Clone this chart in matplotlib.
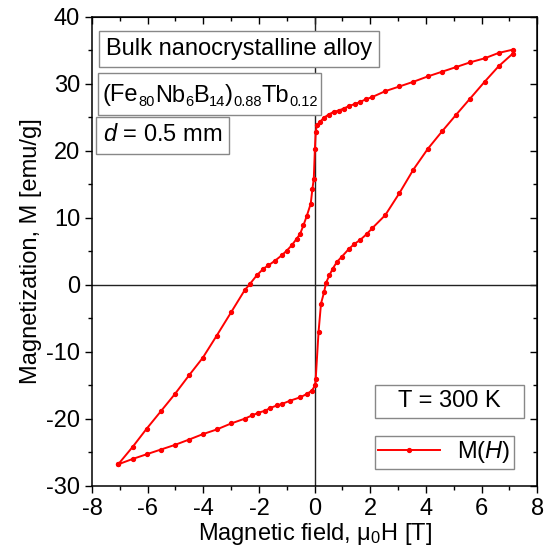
import numpy as np
import matplotlib
matplotlib.use('Agg')
import matplotlib.pyplot as plt
from matplotlib.patches import Rectangle

plt.rcParams['font.family'] = ['Liberation Sans', 'DejaVu Sans']
plt.rcParams['mathtext.fontset'] = 'custom'
plt.rcParams['mathtext.rm'] = 'Liberation Sans'
plt.rcParams['mathtext.it'] = 'Liberation Sans:italic'
plt.rcParams['mathtext.default'] = 'regular'
plt.rcParams['axes.unicode_minus'] = False

# 下降分支 (+7 T -> -7 T)
H_down = [7.13, 6.61, 6.11, 5.59, 5.09, 4.58, 4.07, 3.55, 3.05, 2.54, 2.06, 1.85, 1.64,
          1.46, 1.25, 1.04, 0.86, 0.68, 0.50, 0.32, 0.20, 0.08, 0.04, 0.01, -0.03, -0.08,
          -0.14, -0.28, -0.40, -0.52, -0.64, -0.82, -1.00, -1.18, -1.42, -1.66, -1.84,
          -2.08, -2.32, -2.52, -3.00, -3.52, -4.02, -4.51, -5.02, -5.53, -6.04, -6.54, -7.06]
M_down = [35.1, 34.6, 33.8, 33.2, 32.5, 31.8, 31.1, 30.3, 29.6, 28.9, 28.0, 27.7, 27.3,
          27.0, 26.7, 26.3, 26.0, 25.8, 25.4, 24.9, 24.3, 23.8, 22.8, 20.3, 15.8, 14.3,
          12.1, 10.3, 8.9, 7.6, 6.9, 5.9, 5.1, 4.4, 3.6, 2.9, 2.4,
          1.4, 0.15, -0.85, -4.1, -7.6, -10.9, -13.5, -16.3, -18.9, -21.5, -24.2, -26.8]

# 上升分支 (-7 T -> +7 T)
H_up = [-7.06, -6.54, -6.04, -5.53, -5.02, -4.51, -4.02, -3.52, -3.00, -2.52, -2.25, -2.02,
        -1.78, -1.60, -1.35, -1.18, -0.88, -0.52, -0.28, -0.10, 0.02, 0.04, 0.14, 0.23,
        0.34, 0.41, 0.53, 0.65, 0.80, 0.98, 1.22, 1.43, 1.64, 1.88, 2.06, 2.54, 3.05,
        3.55, 4.07, 4.58, 5.09, 5.59, 6.11, 6.61, 7.12]
M_up = [-26.8, -26.0, -25.3, -24.6, -23.9, -23.1, -22.3, -21.6, -20.7, -20.0, -19.5, -19.1,
        -18.8, -18.4, -18.0, -17.8, -17.3, -16.8, -16.3, -15.8, -15.0, -14.0, -7.1, -2.8,
        -1.1, 0.3, 1.4, 2.4, 3.4, 4.2, 5.3, 6.1, 6.7, 7.6, 8.4, 10.4, 13.7,
        17.2, 20.3, 22.9, 25.4, 27.8, 30.3, 32.6, 34.5]

# 成分式: (文本, 是否下标)
formula = [('(Fe', False), ('80', True), ('Nb', False), ('6', True), ('B', False),
           ('14', True), (')', False), ('0.88', True), ('Tb', False), ('0.12', True)]

H = H_down + H_up
M = M_down + M_up

fs = 17
fs_sub = 10.5
W, Hpx = 551, 559
fig = plt.figure(figsize=(5.51, 5.59), dpi=100)
ax = fig.add_axes([0.167, 0.131, 0.808, 0.839])

ax.axhline(0, color='#222222', lw=1.0, zorder=1)
ax.axvline(0, color='#222222', lw=1.0, zorder=1)
ax.plot(H, M, color='red', lw=1.4, marker='o', ms=2.8, label='M($\\mathit{H}$)', zorder=3)

ax.set_xlim(-8, 8)
ax.set_ylim(-30, 40)
ax.set_xticks(np.arange(-8, 9, 2))
ax.set_yticks(np.arange(-30, 41, 10))
ax.set_xticks(np.arange(-8, 9, 1), minor=True)
ax.set_yticks(np.arange(-30, 41, 5), minor=True)
ax.tick_params(which='both', direction='out', top=False, right=False, labelsize=fs, width=1.0)
ax.tick_params(which='major', length=5)
ax.tick_params(which='minor', length=3)
# 上/右 内侧刻度
axt = ax.secondary_xaxis('top')
axt.set_xticks(np.arange(-8, 9, 2))
axt.set_xticks(np.arange(-8, 9, 1), minor=True)
axt.tick_params(which='both', direction='in', labeltop=False, width=1.0)
axt.tick_params(which='major', length=5)
axt.tick_params(which='minor', length=3)
axr = ax.secondary_yaxis('right')
axr.set_yticks(np.arange(-30, 41, 10))
axr.set_yticks(np.arange(-30, 41, 5), minor=True)
axr.tick_params(which='both', direction='in', labelright=False, width=1.0)
axr.tick_params(which='major', length=5)
axr.tick_params(which='minor', length=3)
for s in ax.spines.values():
    s.set_linewidth(1.1)

ax.set_xlabel('Magnetic field, μ$_0$H [T]', fontsize=fs, labelpad=1)
ax.set_ylabel('Magnetization, M [emu/g]', fontsize=fs, labelpad=3)

bb = dict(boxstyle='square,pad=0.3', fc='white', ec='#888888', lw=1.0)
ax.text(0.031, 0.931, 'Bulk nanocrystalline alloy', transform=ax.transAxes,
        fontsize=fs, va='center', ha='left', bbox=bb, zorder=5)
ax.text(0.024, 0.747, '$\\mathit{d}$ = 0.5 mm', transform=ax.transAxes,
        fontsize=fs, va='center', ha='left', bbox=bb, zorder=5)

# 成分框 (像素坐标, 逐段排字)
def box_px(x0, y0, x1, y1):
    # 图片坐标 (左上原点) -> 显示坐标
    fig.patches.append(Rectangle((x0, Hpx - y1), x1 - x0, y1 - y0, transform=None,
                                 fc='white', ec='#888888', lw=1.0, zorder=5))

box_px(98, 73, 321, 115)
renderer = fig.canvas.get_renderer()
xc = 103
base = Hpx - 101.5
for s, sub in formula:
    t = fig.text(xc, base - (5 if sub else 0), s, transform=None,
                 fontsize=fs_sub if sub else fs, va='baseline', ha='left', zorder=6)
    xc += t.get_window_extent(renderer).width

# T = 300 K 框
ax.add_patch(Rectangle((0.636, 0.145), 0.335, 0.070, transform=ax.transAxes,
                       fc='white', ec='#888888', lw=1.0, zorder=5))
ax.text(0.803, 0.180, 'T = 300 K', transform=ax.transAxes, fontsize=fs,
        va='center', ha='center', zorder=6)

leg = ax.legend(loc='lower right', bbox_to_anchor=(0.948, 0.036), fontsize=fs,
                fancybox=False, edgecolor='#888888', framealpha=1, borderaxespad=0,
                handlelength=2.6, handletextpad=0.75, borderpad=0.15)
leg.get_frame().set_linewidth(1.0)

fig.savefig('out.png', dpi=100)
